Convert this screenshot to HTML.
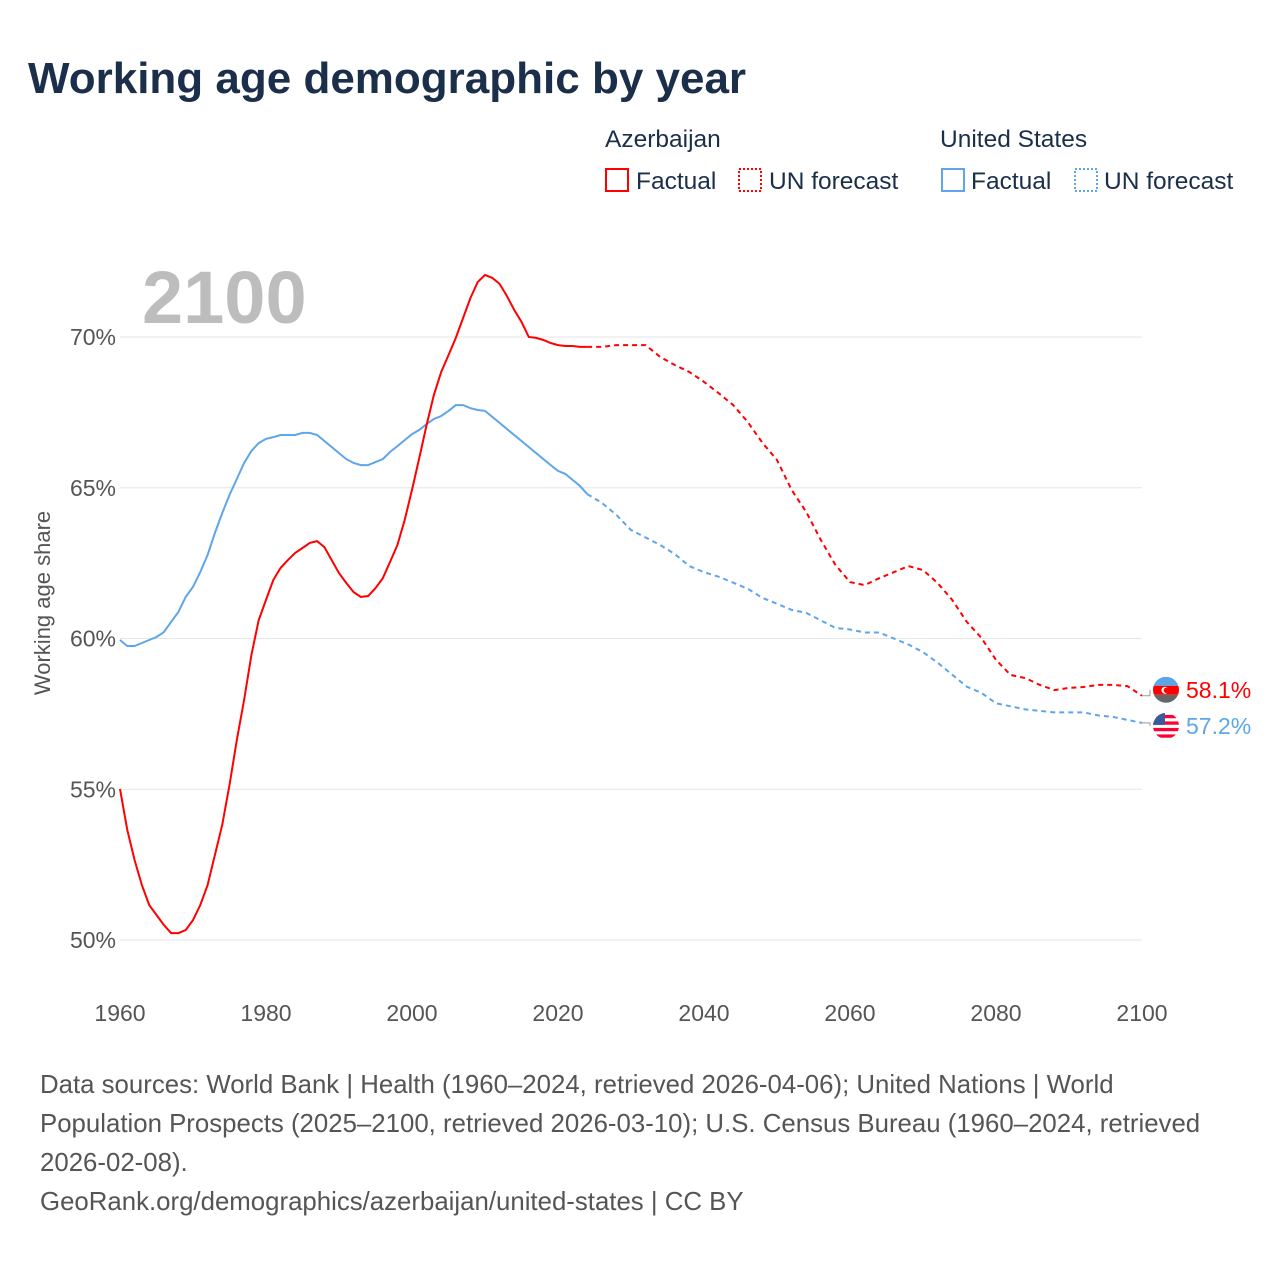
<!DOCTYPE html>
<html><head><meta charset="utf-8"><style>
body{margin:0;width:1280px;height:1280px;background:#fff;font-family:"Liberation Sans",sans-serif;overflow:hidden}
svg{position:absolute;left:0;top:0}
</style></head><body>
<svg width="1280" height="1280">
<text x="28" y="93" font-size="44" font-weight="bold" fill="#1b2f4b">Working age demographic by year</text>
<g font-size="24.5" fill="#1b2f4b">
<text x="605" y="147">Azerbaijan</text>
<rect x="606" y="169" width="22" height="22" fill="none" stroke="#f00" stroke-width="2"/>
<text x="636" y="189">Factual</text>
<rect x="739" y="169" width="22" height="22" fill="none" stroke="#f00" stroke-width="2" stroke-dasharray="2,2"/>
<text x="769" y="189">UN forecast</text>
<text x="940" y="147">United States</text>
<rect x="942" y="169" width="22" height="22" fill="none" stroke="#5ea5ec" stroke-width="2"/>
<text x="971" y="189">Factual</text>
<rect x="1075" y="169" width="22" height="22" fill="none" stroke="#5ea5ec" stroke-width="2" stroke-dasharray="2,2"/>
<text x="1104" y="189">UN forecast</text>
</g>
<g id="grid"></g>
<text x="142" y="323" font-size="74" font-weight="bold" fill="#bdbdbd">2100</text>
<text transform="translate(50,603) rotate(-90)" text-anchor="middle" font-size="22" fill="#555">Working age share</text>
<g id="series"></g>
<g id="ends"></g>
<g font-size="25.8" fill="#555">
<text x="40" y="1093">Data sources: World Bank | Health (1960–2024, retrieved 2026-04-06); United Nations | World</text>
<text x="40" y="1132">Population Prospects (2025–2100, retrieved 2026-03-10); U.S. Census Bureau (1960–2024, retrieved</text>
<text x="40" y="1171">2026-02-08).</text>
<text x="40" y="1210">GeoRank.org/demographics/azerbaijan/united-states | CC BY</text>
</g>
</svg>
<script>
const yTicks=[50,55,60,65,70];
const xTicks=[1960,1980,2000,2020,2040,2060,2080,2100];
const azFactual=[55.01,53.65,52.65,51.82,51.16,50.83,50.5,50.23,50.23,50.33,50.66,51.16,51.82,52.82,53.81,55.14,56.63,57.96,59.45,60.61,61.28,61.94,62.34,62.6,62.84,63.0,63.17,63.23,63.03,62.6,62.17,61.84,61.54,61.38,61.41,61.67,62.0,62.54,63.1,63.93,64.93,65.99,67.08,68.08,68.84,69.4,69.97,70.63,71.29,71.82,72.06,71.96,71.76,71.36,70.9,70.5,70.0,69.97,69.9,69.8,69.73,69.7,69.7,69.67,69.67];
const azForecast=[69.67,69.67,69.73,69.73,69.73,69.34,69.07,68.84,68.51,68.14,67.74,67.18,66.49,65.92,64.93,64.2,63.27,62.44,61.87,61.77,62.0,62.2,62.4,62.27,61.84,61.28,60.55,60.02,59.29,58.79,58.69,58.46,58.29,58.36,58.39,58.46,58.46,58.42,58.1];
const usFactual=[59.95,59.75,59.75,59.85,59.95,60.05,60.21,60.55,60.88,61.38,61.71,62.21,62.77,63.5,64.16,64.76,65.29,65.82,66.22,66.48,66.62,66.68,66.75,66.75,66.75,66.82,66.82,66.75,66.55,66.35,66.15,65.95,65.82,65.75,65.75,65.85,65.95,66.19,66.38,66.58,66.78,66.92,67.11,67.28,67.38,67.55,67.74,67.74,67.64,67.58,67.55,67.35,67.15,66.95,66.75,66.55,66.35,66.15,65.95,65.75,65.56,65.46,65.26,65.06,64.79];
const usForecast=[64.79,64.5,64.1,63.6,63.35,63.1,62.8,62.4,62.2,62.05,61.85,61.65,61.35,61.15,60.95,60.85,60.6,60.35,60.3,60.2,60.2,60.0,59.8,59.55,59.2,58.8,58.4,58.2,57.85,57.75,57.65,57.6,57.55,57.55,57.55,57.45,57.4,57.3,57.2];
const X=y=>120+(y-1960)*(1022/140);
const Y=v=>940-(v-50)*(603/20);
const NS='http://www.w3.org/2000/svg';
function mk(t,a,p){const e=document.createElementNS(NS,t);for(const k in a)e.setAttribute(k,a[k]);p.appendChild(e);return e;}
const grid=document.getElementById('grid');
yTicks.forEach(v=>{
 const l=mk('line',{x1:120,x2:1142,y1:Y(v),y2:Y(v),stroke:'#e6e6e6','stroke-width':1},grid);
 
 
 const t=mk('text',{x:116,y:Y(v)+8,'text-anchor':'end','font-size':23,fill:'#555'},grid);
 t.textContent=v+'%';
 
 
});
xTicks.forEach(y=>{
 const t=mk('text',{x:X(y),y:1021,'text-anchor':'middle','font-size':23,fill:'#555'},grid);
 t.textContent=y;
 
 
});
const sg=document.getElementById('series');
function line(arr,start,step,col,dash,name){
 const d=arr.map((v,i)=>(i?'L':'M')+X(start+i*step).toFixed(1)+','+Y(v).toFixed(1)).join('');
 const p=mk('path',{d:d,fill:'none',stroke:col,'stroke-width':2,'stroke-dasharray':dash},sg);
 
 
}
line(usFactual,1960,1,'#5ea5ec','none','us-factual-line');
line(usForecast,2024,2,'#5ea5ec','5,4','us-forecast-line');
line(azFactual,1960,1,'#f00','none','az-factual-line');
line(azForecast,2024,2,'#f00','5,4','az-forecast-line');
const ends=document.getElementById('ends');
const azV=azForecast[azForecast.length-1], usV=usForecast[usForecast.length-1];
const ay=Y(azV)-6, uy=Y(usV)+3;
const cn1=mk('path',{d:`M1142,${Y(azV)} L1150,${Y(azV)} L1150,${ay}`,fill:'none',stroke:'#999','stroke-width':1},ends);


const cn2=mk('path',{d:`M1142,${Y(usV)} L1150,${Y(usV)} L1150,${uy}`,fill:'none',stroke:'#999','stroke-width':1},ends);


const c1=mk('clipPath',{id:'c1'},ends);mk('circle',{cx:1166,cy:ay,r:13},c1);
const af=mk('g',{'clip-path':'url(#c1)'},ends);


mk('rect',{x:1153,y:ay-13,width:26,height:9,fill:'#5aa6e8'},af);
mk('rect',{x:1153,y:ay-4,width:26,height:9,fill:'#f00'},af);
mk('rect',{x:1153,y:ay+5,width:26,height:9,fill:'#666'},af);
mk('circle',{cx:1165,cy:ay+0.5,r:3.5,fill:'#fff'},af);
mk('circle',{cx:1166.5,cy:ay+0.5,r:2.8,fill:'#f00'},af);
const at=mk('text',{x:1186,y:ay+8,'font-size':23,fill:'#f00'},ends);
at.textContent=azV.toFixed(1)+'%';


const c2=mk('clipPath',{id:'c2'},ends);mk('circle',{cx:1166,cy:uy,r:13},c2);
const uf=mk('g',{'clip-path':'url(#c2)'},ends);


mk('rect',{x:1153,y:uy-13,width:26,height:26,fill:'#fff'},uf);
for(let i=0;i<4;i++)mk('rect',{x:1153,y:uy-11+i*6.5,width:26,height:3.3,fill:'#f03'},uf);
mk('rect',{x:1153,y:uy-13,width:12,height:12,fill:'#3c5b9a'},uf);
const ut=mk('text',{x:1186,y:uy+8,'font-size':23,fill:'#5ea5ec'},ends);
ut.textContent=usV.toFixed(1)+'%';


</script>
</body></html>
